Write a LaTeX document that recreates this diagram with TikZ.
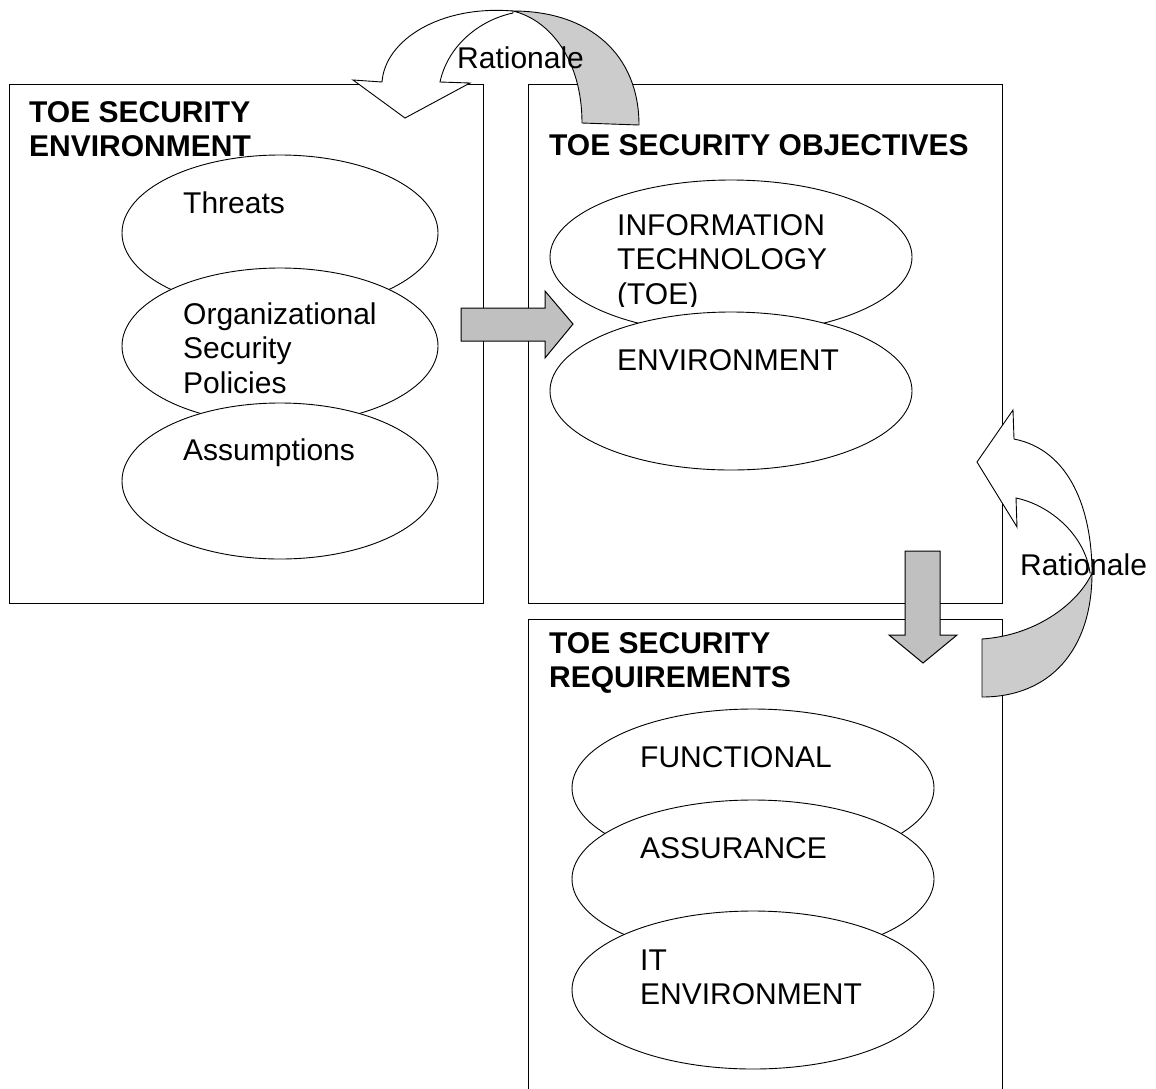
\documentclass[tikz,border=0pt]{standalone}
\usepackage{fontspec}
\setmainfont{Liberation Sans}
\usetikzlibrary{shapes.geometric}
\definecolor{arrgray}{RGB}{192,192,192}
\definecolor{curvgray}{RGB}{204,204,204}
\tikzset{
  box/.style={draw=black, line width=1.3pt, rectangle, anchor=north west, inner sep=0pt},
  ell/.style={draw=black, line width=0.9pt, fill=white, ellipse, inner sep=0pt},
  txt/.style={anchor=base west, inner sep=0pt, font=\fontsize{30}{34.5}\selectfont},
  ttl/.style={txt, font=\fontsize{30}{34.5}\selectfont\bfseries},
  blockarrow/.style={draw=black, line width=1pt, fill=arrgray, line join=miter},
  curvback/.style={draw=black, line width=0.9pt, fill=curvgray},
  curvfront/.style={draw=black, line width=0.9pt, fill=white},
}
\begin{document}
\begin{tikzpicture}[x=1pt, y=-1pt]
\useasboundingbox (0,0) rectangle (1156,1088);
% ---------- left box ----------
\node[box, minimum width=474pt, minimum height=519pt] (envbox) at (9,84) {};
\node[ttl] (envtitle) at (29,122) {\vtop{\hbox{TOE SECURITY}\hbox{ENVIRONMENT}}};
\node[ell, minimum width=316pt, minimum height=156pt] (threats) at (280,233) {};
\node[txt] (threatsT) at (183,213) {Threats};
\node[ell, minimum width=316pt, minimum height=156pt] (osp) at (280,346) {};
\node[txt] (ospT) at (183,324) {\vtop{\hbox{Organizational}\hbox{Security}\hbox{Policies}}};
\node[ell, minimum width=316pt, minimum height=156pt] (assum) at (280,481) {};
\node[txt] (assumT) at (183,460) {Assumptions};
% ---------- middle box ----------
\node[box, minimum width=474pt, minimum height=519pt] (objbox) at (528,84) {};
\node[ttl] (objtitle) at (549,155) {TOE SECURITY OBJECTIVES};
\node[ell, minimum width=362pt, minimum height=154pt] (itobj) at (731,257) {};
\begin{scope}
\clip (600,190) rectangle (900,306);
\node[txt] (itobjT) at (617,235) {\vtop{\hbox{INFORMATION}\hbox{TECHNOLOGY}\hbox{(TOE)}}};
\end{scope}
\node[ell, minimum width=362pt, minimum height=158pt] (envobj) at (731,391) {};
\node[txt] (envobjT) at (617,370) {ENVIRONMENT};
% ---------- requirements box ----------
\node[box, minimum width=474pt, minimum height=520pt] (reqbox) at (528,619) {};
\node[ttl] (reqtitle) at (549,653) {\vtop{\hbox{TOE SECURITY}\hbox{REQUIREMENTS}}};
\node[ell, minimum width=362pt, minimum height=158pt] (func) at (753,788) {};
\node[txt] (funcT) at (640,767) {FUNCTIONAL};
\node[ell, minimum width=362pt, minimum height=158pt] (assur) at (753,879) {};
\node[txt] (assurT) at (640,858) {ASSURANCE};
\node[ell, minimum width=362pt, minimum height=158pt] (itenv) at (753,990) {};
\node[txt] (itenvT) at (640,970) {\vtop{\hbox{IT}\hbox{ENVIRONMENT}}};
% ---------- block arrows ----------
\draw[blockarrow] (461,308) -- (545,308) -- (545,291) -- (573,324) -- (545,358) -- (545,341) -- (461,341) -- cycle;
\draw[blockarrow] (905,551) -- (940,551) -- (940,635) -- (957,635) -- (923,663) -- (889,635) -- (905,635) -- cycle;
% ---------- top curved arrow ----------
\draw[curvback] (582,123) -- (639,125) .. controls (639,55) and (590,11) .. (513,11)
   .. controls (550,20) and (582,60) .. (582,123) -- cycle;
\draw[curvfront] (513,11) .. controls (440,5) and (385,40) .. (382,82)
   -- (353,80) -- (405,118) -- (470,83) -- (440,82)
   .. controls (448,45) and (480,20) .. (513,13) -- cycle;
\node[txt] (rat1) at (457,68) {Rationale};
% ---------- right curved arrow ----------
\draw[curvback] (982,639) -- (982,697) .. controls (1050,697) and (1092,650) .. (1092,573)
   .. controls (1080,600) and (1040,635) .. (982,639) -- cycle;
\draw[curvfront] (1092,573) .. controls (1092,510) and (1070,450) .. (1014,439)
   -- (1013,410) -- (977,462) -- (1017,527) -- (1016,498)
   .. controls (1050,505) and (1085,535) .. (1090,573) -- cycle;
\node[txt] (rat2) at (1020,575) {Rationale};
\end{tikzpicture}
\end{document}
